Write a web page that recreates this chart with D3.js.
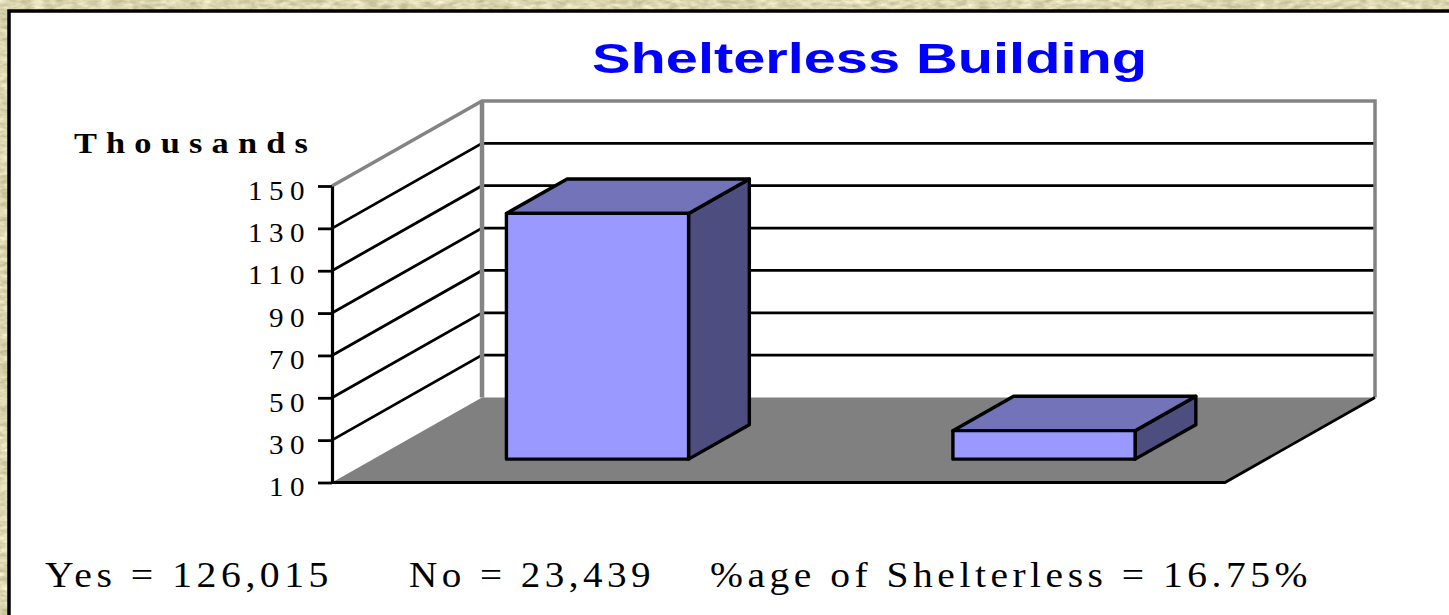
<!DOCTYPE html>
<html>
<head>
<meta charset="utf-8">
<script src="https://cdn.jsdelivr.net/npm/d3@7"></script>
<style>
  html, body { margin: 0; padding: 0; background: #dcd8b4; overflow: hidden; }
  svg { display: block; }
  text { font-family: "Liberation Serif", serif; fill: #000; }
</style>
</head>
<body>
<svg id="chart"></svg>
<script>
const categories = ['Yes', 'No'];
const values = [126.015, 23.439]; // thousands
const tickLabels = [10, 30, 50, 70, 90, 110, 130, 150];
const titleText = 'Shelterless Building';
const unitText = 'Thousands';
const footerTexts = ['Yes = 126,015', 'No = 23,439', '%age of Shelterless = 16.75%'];

const width = 1449, height = 615;
const depthX = 150, depthY = 85;      // how far the back wall is shifted from the front
const barDepth = [0.275, 0.68];       // bar front and back, as a share of the floor depth
const barShare = 0.408;

const svg = d3.select('#chart').attr('width', width).attr('height', height);

// textured paper behind the white panel
const noise = svg.append('defs').append('filter').attr('id', 'paper')
  .attr('color-interpolation-filters', 'sRGB')
  .attr('x', 0).attr('y', 0).attr('width', '100%').attr('height', '100%');
noise.append('feTurbulence').attr('type', 'fractalNoise')
  .attr('baseFrequency', '0.09 0.22').attr('numOctaves', 3).attr('seed', 4);
noise.append('feColorMatrix').attr('type', 'matrix')
  .attr('values', '0.34 0 0 0 0.69  0.34 0 0 0 0.67  0.38 0 0 0 0.50  0 0 0 0 1');
svg.append('rect').attr('width', width).attr('height', height).attr('filter', 'url(#paper)');

svg.append('rect').attr('x', 9).attr('y', 11).attr('width', width + 20).attr('height', height + 20)
  .attr('fill', '#fff').attr('stroke', '#000').attr('stroke-width', 3.5);

const xScale = d3.scaleBand().domain(categories).range([332, 1225]);
const yScale = d3.scaleLinear().domain([10, 150]).range([482.5, 186]);
const [xLeft, xRight] = xScale.range();
const [vMin, vMax] = yScale.domain();

// maps a front-plane position and a depth (0 front, 1 back) to the screen
const project = (x, v, d) => [x + d * depthX, yScale(v) - d * depthY];
const poly = pts => pts.map(p => p.join(',')).join(' ');

const chart = svg.append('g');

// walls
chart.append('polygon')
  .attr('points', poly([project(xLeft, vMin, 0), project(xLeft, vMin, 1), project(xRight, vMin, 1),
    project(xRight, vMax, 1), project(xLeft, vMax, 1), project(xLeft, vMax, 0)]))
  .attr('fill', '#fff');

// grid lines run along the side wall and then the back wall
chart.selectAll('.grid').data(tickLabels.slice(1, -1)).join('polyline')
  .attr('class', 'grid')
  .attr('points', d => poly([project(xLeft, d, 0), project(xLeft, d, 1), project(xRight, d, 1)]))
  .attr('fill', 'none').attr('stroke', '#000').attr('stroke-width', 2.8);

// top edge and verticals of the walls
chart.append('polyline')
  .attr('points', poly([project(xLeft, vMax, 0), project(xLeft, vMax, 1), project(xRight, vMax, 1), project(xRight, vMin, 1)]))
  .attr('fill', 'none').attr('stroke', '#848484').attr('stroke-width', 3.5);
chart.append('line')
  .attr('x1', project(xLeft, vMin, 1)[0]).attr('x2', project(xLeft, vMin, 1)[0])
  .attr('y1', project(xLeft, vMax, 1)[1]).attr('y2', project(xLeft, vMin, 1)[1])
  .attr('stroke', '#848484').attr('stroke-width', 4.5);

// floor
chart.append('polygon')
  .attr('points', poly([project(xLeft, vMin, 0), project(xLeft, vMin, 1), project(xRight, vMin, 1), project(xRight, vMin, 0)]))
  .attr('fill', '#808080');
chart.append('polyline')
  .attr('points', poly([project(xLeft, vMin, 0), project(xRight, vMin, 0), project(xRight, vMin, 1)]))
  .attr('fill', 'none').attr('stroke', '#000').attr('stroke-width', 2.8);

// bars: side, top, front
const bars = chart.selectAll('.bar').data(categories.map((c, i) => ({ c, v: values[i] }))).join('g').attr('class', 'bar');
const barW = xScale.bandwidth() * barShare;
const x0 = d => xScale(d.c) + (xScale.bandwidth() - barW) / 2 + 1;
const faces = [
  ['#4d4d80', d => [project(x0(d) + barW, vMin, barDepth[0]), project(x0(d) + barW, vMin, barDepth[1]), project(x0(d) + barW, d.v, barDepth[1]), project(x0(d) + barW, d.v, barDepth[0])]],
  ['#7373b9', d => [project(x0(d), d.v, barDepth[0]), project(x0(d), d.v, barDepth[1]), project(x0(d) + barW, d.v, barDepth[1]), project(x0(d) + barW, d.v, barDepth[0])]],
  ['#9999ff', d => [project(x0(d), vMin, barDepth[0]), project(x0(d), d.v, barDepth[0]), project(x0(d) + barW, d.v, barDepth[0]), project(x0(d) + barW, vMin, barDepth[0])]]
];
faces.forEach(([fill, pts]) => {
  bars.append('polygon')
    .attr('points', d => poly(pts(d)))
    .attr('fill', fill).attr('stroke', '#000').attr('stroke-width', 3.4).attr('stroke-linejoin', 'round');
});

// value axis
const yAxis = d3.axisLeft(yScale).tickValues(tickLabels).tickSize(14).tickSizeOuter(0).tickPadding(7);
const yAxisG = svg.append('g').attr('transform', `translate(${xLeft},0)`).call(yAxis);
yAxisG.select('.domain').attr('stroke', '#000').attr('stroke-width', 3.2);
yAxisG.selectAll('line').attr('stroke', '#000').attr('stroke-width', 2.8);
yAxisG.selectAll('text')
  .attr('dy', '0.62em').attr('y', -3.5)
  .attr('textLength', d => String(d).length * 21)
  .attr('lengthAdjust', 'spacingAndGlyphs')
  .style('font-family', '"Liberation Serif", serif')
  .style('font-size', '27px')
  .style('letter-spacing', '6px');

svg.append('text').attr('x', 592).attr('y', 73)
  .attr('textLength', 555).attr('lengthAdjust', 'spacingAndGlyphs')
  .style('font-family', '"Liberation Sans", sans-serif')
  .style('font-size', '43px').style('font-weight', 'bold').style('fill', '#0000ff')
  .text(titleText);

svg.append('text').attr('x', 74).attr('y', 153)
  .attr('textLength', 243).attr('lengthAdjust', 'spacingAndGlyphs')
  .style('font-size', '30px').style('font-weight', 'bold').style('letter-spacing', '8px')
  .text(unitText);

// one start and length per footer text
const footerX = [45, 409, 710], footerLen = [288, 246, 602];
svg.selectAll('.footer').data(footerTexts).join('text')
  .attr('class', 'footer')
  .attr('x', (d, i) => footerX[i]).attr('y', 587)
  .attr('textLength', (d, i) => footerLen[i])
  .attr('lengthAdjust', 'spacingAndGlyphs')
  .style('font-size', '35px')
  .style('letter-spacing', '4px')
  .text(d => d);
</script>
</body>
</html>
